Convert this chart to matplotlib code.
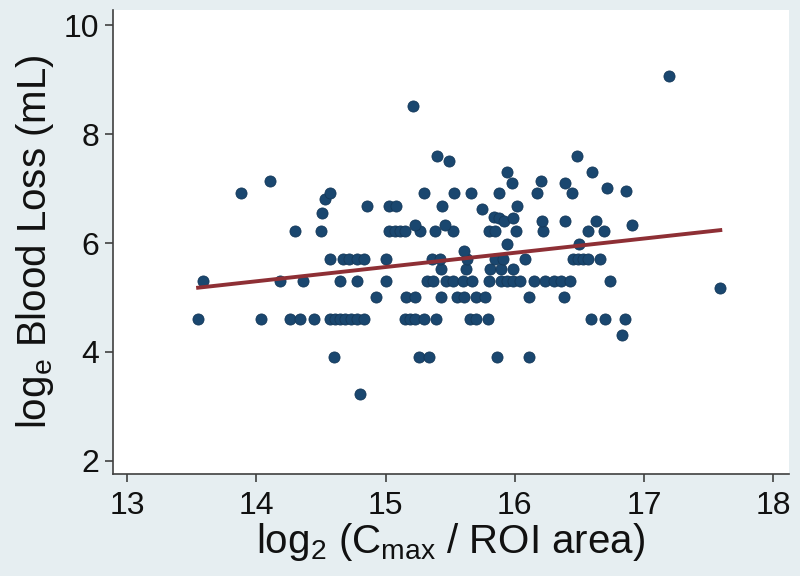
import numpy as np
import matplotlib
matplotlib.use("Agg")
import matplotlib.pyplot as plt

# ===== data =====
# each row = one blood-loss level (log_e mL) and the x values sitting on it
row_levels = [3.22, 3.91, 4.32, 4.61, 5.01, 5.17, 5.30, 5.52, 5.70, 5.86,
              5.99, 6.22, 6.33, 6.55, 6.62, 6.68, 6.81, 6.91, 6.96, 7.01,
              7.10, 7.13, 7.31, 7.50, 7.60, 8.52, 9.07]
row_x = [
    [14.80],
    [14.60, 15.26, 15.34, 15.86, 16.11],
    [16.83],
    [13.55, 14.04, 14.26, 14.34, 14.45, 14.57, 14.61, 14.65, 14.69, 14.73,
     14.78, 14.83, 15.15, 15.19, 15.23, 15.30, 15.39, 15.65, 15.70, 15.79,
     16.59, 16.70, 16.85],
    [14.93, 15.16, 15.23, 15.43, 15.55, 15.61, 15.70, 15.77, 16.11, 16.38],
    [17.59],
    [13.59, 14.18, 14.36, 14.65, 14.78, 15.00, 15.32, 15.37, 15.47, 15.52,
     15.60, 15.67, 15.80, 15.89, 15.94, 15.99, 16.04, 16.15, 16.23, 16.30,
     16.36, 16.43, 16.74],
    [15.43, 15.62, 15.81, 15.89, 15.99],
    [14.57, 14.67, 14.72, 14.78, 14.83, 15.00, 15.36, 15.42, 15.63, 15.85,
     15.91, 16.08, 16.45, 16.49, 16.53, 16.57, 16.66],
    [15.61],
    [15.94, 16.50],
    [14.30, 14.50, 15.03, 15.07, 15.11, 15.15, 15.27, 15.38, 15.52, 15.80,
     15.85, 16.01, 16.22, 16.57, 16.69],
    [15.23, 15.46, 16.91],
    [14.51],
    [15.75],
    [14.86, 15.03, 15.08, 15.44, 16.02],
    [14.53],
    [13.88, 14.57, 15.30, 15.53, 15.66, 15.88, 16.17, 16.44],
    [16.86],
    [16.71],
    [15.98, 16.39],
    [14.11, 16.20],
    [15.94, 16.60],
    [15.49],
    [15.40, 16.48],
    [15.21],
    [17.19],
]
# the small cluster between 6.40 and 6.50
cluster_x = [15.84, 15.88, 15.92, 15.99, 16.21, 16.39, 16.63]
cluster_y = [6.48, 6.45, 6.40, 6.46, 6.40, 6.40, 6.40]

x_ticks = [13, 14, 15, 16, 17, 18]
y_ticks = [2, 4, 6, 8, 10]

# ===== assemble =====
x = np.array([v for row in row_x for v in row] + cluster_x)
y = np.array([lvl for lvl, row in zip(row_levels, row_x) for _ in row] + cluster_y)

# linear fit over the observed x range
slope, intercept = np.polyfit(x, y, 1)
fit_x = np.array([x.min(), x.max()])
fit_y = intercept + slope * fit_x

# ===== plot =====
plt.rcParams["font.family"] = ["Liberation Sans", "DejaVu Sans"]

fig = plt.figure(figsize=(8, 5.76), dpi=100, facecolor="#e6eef1")
ax = fig.add_axes([0.141, 0.177, 0.845, 0.806])
ax.set_facecolor("white")

ax.scatter(x, y, s=64, color="#1a476f", edgecolor="#15395a", linewidth=0.6, zorder=3)
ax.plot(fit_x, fit_y, color="#8e2f35", linewidth=2.8, zorder=4)

ax.set_xlim(12.89, 18.12)
ax.set_ylim(1.76, 10.28)
ax.set_xticks(x_ticks)
ax.set_yticks(y_ticks)

for side in ["top", "right"]:
    ax.spines[side].set_visible(False)
for side in ["left", "bottom"]:
    ax.spines[side].set_color("#404040")
    ax.spines[side].set_linewidth(1.2)

ax.tick_params(axis="both", colors="#404040", length=6, width=1.2, labelsize=23,
               labelcolor="#111111")
ax.tick_params(axis="x", pad=6)

ax.set_xlabel(r"log$_\mathregular{2}$ (C$_\mathregular{max}$ / ROI area)",
              fontsize=29, color="#111111", labelpad=0)
ax.set_ylabel(r"log$_\mathregular{e}$ Blood Loss (mL)",
              fontsize=29, color="#111111", labelpad=6)

fig.savefig("out.png", dpi=100, facecolor=fig.get_facecolor())
